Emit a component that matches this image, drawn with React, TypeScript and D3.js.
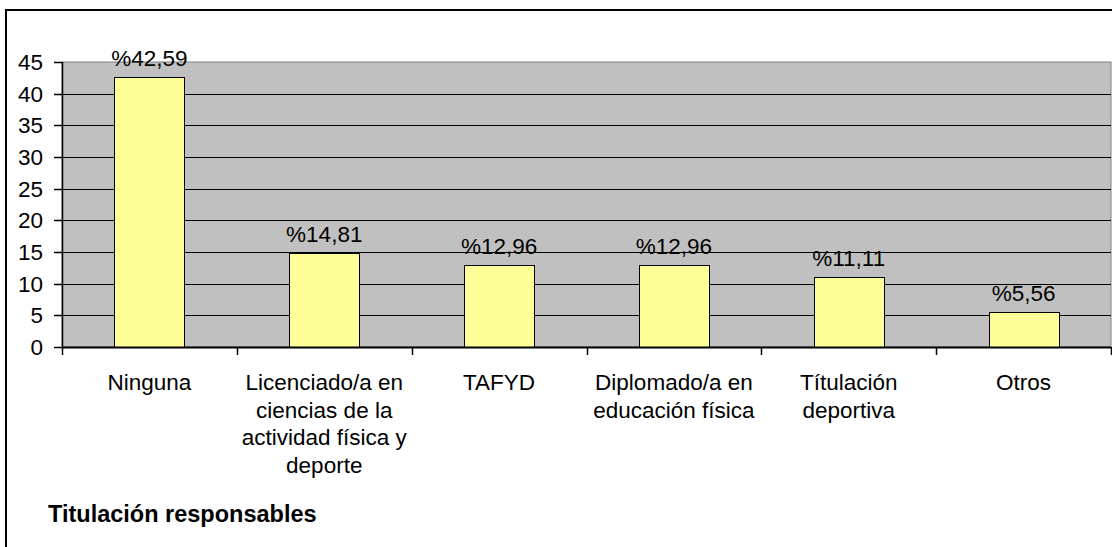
import React from "react";
import * as d3 from "d3";

const categories: string[] = [
  "Ninguna",
  "Licenciado/a en\nciencias de la\nactividad física y\ndeporte",
  "TAFYD",
  "Diplomado/a en\neducación física",
  "Títulación\ndeportiva",
  "Otros",
];
const values: number[] = [42.59, 14.81, 12.96, 12.96, 11.11, 5.56];
const yTicks: number[] = [0, 5, 10, 15, 20, 25, 30, 35, 40, 45];
const title = "Titulación responsables";

const W = 1112;
const H = 547;
const left = 62;
const right = 1111;
const top = 62;
const bottom = 347;
const FONT = "'Liberation Sans', Arial, sans-serif";
const FS = 22.5;

export default function App() {
  const x = d3.scaleBand<string>().domain(categories).range([left, right]).paddingInner(0.6).paddingOuter(0.3);
  const y = d3.scaleLinear().domain([0, 45]).range([bottom, top]);
  const step = x.step();
  const fmt = (v: number) => "%" + v.toFixed(2).replace(".", ",");
  const boundaries = d3.range(categories.length + 1).map((i) => left + i * step);

  return (
    <svg width={W} height={H} style={{ position: "absolute", left: 0, top: 0, background: "#fff" }} fontFamily={FONT}>
      <rect x={0} y={0} width={W} height={H} fill="#fff" />
      {/* outer frame */}
      <rect x={6} y={10} width={W + 20} height={H + 20} fill="none" stroke="#000" strokeWidth={2} />
      {/* plot area */}
      <rect x={left} y={top} width={right - left} height={bottom - top} fill="#C0C0C0" stroke="#808080" strokeWidth={1} />
      {/* gridlines */}
      {yTicks.filter((t) => t > 0 && t < 45).map((t) => (
        <line key={t} x1={left} x2={right} y1={Math.round(y(t)) + 0.5} y2={Math.round(y(t)) + 0.5} stroke="#000" strokeWidth={1} />
      ))}
      {/* bars */}
      {values.map((v, i) => (
        <rect
          key={i}
          x={Math.round(x(categories[i])!) + 0.5}
          y={Math.round(y(v)) + 0.5}
          width={Math.round(x.bandwidth())}
          height={Math.round(y(0)) - Math.round(y(v))}
          fill="#FFFF99"
          stroke="#000"
          strokeWidth={1}
        />
      ))}
      {/* value labels */}
      {values.map((v, i) => (
        <text key={i} x={x(categories[i])! + x.bandwidth() / 2} y={y(v) - 11} textAnchor="middle" fontSize={FS} fill="#000">
          {fmt(v)}
        </text>
      ))}
      {/* y axis */}
      <line x1={left + 0.5} x2={left + 0.5} y1={top} y2={bottom} stroke="#000" strokeWidth={1.5} />
      {yTicks.map((t) => (
        <g key={t}>
          <line x1={left - 8} x2={left} y1={Math.round(y(t)) + 0.5} y2={Math.round(y(t)) + 0.5} stroke="#000" strokeWidth={1.5} />
          <text x={43} y={y(t) + 8} textAnchor="end" fontSize={FS} fill="#000">{t}</text>
        </g>
      ))}
      {/* x axis */}
      <line x1={left} x2={right} y1={bottom + 0.5} y2={bottom + 0.5} stroke="#000" strokeWidth={2} />
      {boundaries.map((b, i) => (
        <line key={i} x1={Math.round(b) + 0.5} x2={Math.round(b) + 0.5} y1={bottom} y2={bottom + 8} stroke="#000" strokeWidth={1.5} />
      ))}
      {categories.map((c, i) => (
        <text key={i} x={x(c)! + x.bandwidth() / 2} y={390} textAnchor="middle" fontSize={FS} fill="#000">
          {c.split("\n").map((line, j) => (
            <tspan key={j} x={x(c)! + x.bandwidth() / 2} dy={j === 0 ? 0 : 27.5}>{line}</tspan>
          ))}
        </text>
      ))}
      <text x={48} y={522} fontSize={23.5} fontWeight="bold" fill="#000">{title}</text>
    </svg>
  );
}
